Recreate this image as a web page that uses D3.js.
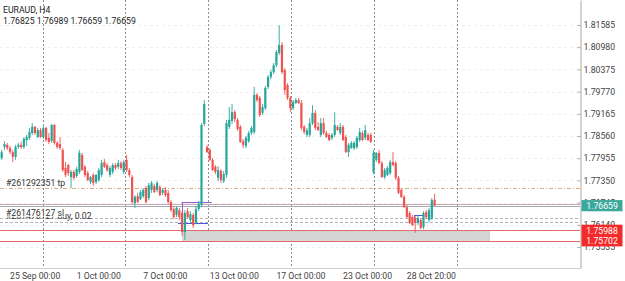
<!DOCTYPE html>
<html><head><meta charset="utf-8">
<script src="https://cdn.jsdelivr.net/npm/d3@7"></script>
<style>body{margin:0;background:#fff;} svg{display:block;font-family:Roboto, "Noto Sans", sans-serif;}</style>
</head><body><svg id="c" width="625" height="281"></svg>
<script>
const symbol = "EURAUD, H4";
const headerValues = [1.76825, 1.76989, 1.76659, 1.76659];
const opens = [1.7796,1.7826,1.7832,1.7823,1.7812,1.7799,1.7826,1.7832,1.7826,1.7845,
1.7851,1.7864,1.7881,1.7853,1.7872,1.7853,1.7878,1.7851,1.7842,1.7886,
1.7837,1.7834,1.7818,1.7769,1.7777,1.7744,1.7758,1.7747,1.7758,1.7804,
1.7772,1.7755,1.7731,1.7750,1.7731,1.7736,1.7750,1.7785,1.7777,1.7750,
1.7758,1.7777,1.7772,1.7782,1.7758,1.7791,1.7763,1.7744,1.7673,1.7692,
1.7684,1.7692,1.7714,1.7687,1.7709,1.7720,1.7709,1.7717,1.7701,1.7709,
1.7701,1.7676,1.7657,1.7641,1.7654,1.7646,1.7594,1.7651,1.7627,1.7641,
1.7621,1.7657,1.7668,1.7889,1.7826,1.7818,1.7791,1.7772,1.7742,1.7761,
1.7733,1.7750,1.7881,1.7897,1.7921,1.7900,1.7881,1.7842,1.7829,1.7842,
1.7864,1.7867,1.7968,1.7960,1.7919,1.7932,1.7990,1.8017,1.8030,1.8049,
1.8082,1.8104,1.8036,1.7995,1.7960,1.7932,1.7946,1.7954,1.7946,1.7881,
1.7859,1.7859,1.7891,1.7919,1.7881,1.7859,1.7891,1.7864,1.7859,1.7851,
1.7859,1.7881,1.7864,1.7881,1.7853,1.7812,1.7823,1.7823,1.7826,1.7845,
1.7864,1.7851,1.7859,1.7859,1.7758,1.7791,1.7810,1.7782,1.7744,1.7750,
1.7755,1.7785,1.7782,1.7742,1.7709,1.7690,1.7662,1.7646,1.7635,1.7632,
1.7619,1.7627,1.7608,1.7649,1.7627,1.7632,1.76825];
const highs = [1.7818,1.7842,1.7837,1.7829,1.7818,1.7832,1.7837,1.7840,1.7853,1.7859,
1.7878,1.7891,1.7883,1.7878,1.7878,1.7883,1.7881,1.7864,1.7889,1.7889,
1.7842,1.7853,1.7823,1.7785,1.7780,1.7763,1.7763,1.7772,1.7818,1.7810,
1.7777,1.7761,1.7747,1.7755,1.7752,1.7769,1.7791,1.7793,1.7782,1.7774,
1.7782,1.7782,1.7791,1.7788,1.7791,1.7804,1.7769,1.7750,1.7695,1.7701,
1.7709,1.7714,1.7720,1.7728,1.7733,1.7725,1.7733,1.7722,1.7714,1.7717,
1.7709,1.7681,1.7662,1.7665,1.7660,1.7651,1.7654,1.7660,1.7651,1.7646,
1.7665,1.7679,1.7891,1.7954,1.7832,1.7823,1.7796,1.7777,1.7774,1.7766,
1.7761,1.7900,1.7935,1.7943,1.7927,1.7905,1.7886,1.7848,1.7856,1.7870,
1.7883,1.7990,1.7973,1.7965,1.7943,1.7992,1.8022,1.8036,1.8055,1.8090,
1.8158,1.8112,1.8041,1.8000,1.7965,1.7954,1.7960,1.7960,1.7954,1.7886,
1.7878,1.7905,1.7940,1.7927,1.7894,1.7905,1.7905,1.7870,1.7864,1.7864,
1.7921,1.7886,1.7891,1.7886,1.7859,1.7837,1.7842,1.7842,1.7856,1.7878,
1.7870,1.7886,1.7864,1.7864,1.7818,1.7812,1.7818,1.7788,1.7769,1.7774,
1.7791,1.7812,1.7788,1.7747,1.7714,1.7695,1.7668,1.7651,1.7641,1.7638,
1.7641,1.7632,1.7651,1.7654,1.7660,1.7687,1.76989];
const lows = [1.7791,1.7818,1.7818,1.7807,1.7785,1.7791,1.7821,1.7821,1.7821,1.7829,
1.7845,1.7859,1.7859,1.7851,1.7851,1.7848,1.7840,1.7834,1.7837,1.7832,
1.7821,1.7818,1.7758,1.7744,1.7747,1.7714,1.7736,1.7742,1.7752,1.7761,
1.7744,1.7733,1.7725,1.7720,1.7725,1.7731,1.7744,1.7769,1.7758,1.7744,
1.7752,1.7763,1.7766,1.7763,1.7752,1.7758,1.7744,1.7671,1.7660,1.7673,
1.7681,1.7687,1.7673,1.7681,1.7701,1.7701,1.7703,1.7692,1.7695,1.7690,
1.7671,1.7649,1.7630,1.7635,1.7627,1.7583,1.7573,1.7630,1.7621,1.7605,
1.7616,1.7651,1.7662,1.7883,1.7810,1.7788,1.7761,1.7752,1.7733,1.7728,
1.7728,1.7742,1.7875,1.7889,1.7894,1.7870,1.7837,1.7823,1.7823,1.7837,
1.7859,1.7861,1.7949,1.7908,1.7913,1.7927,1.7984,1.8011,1.8025,1.8044,
1.8077,1.8025,1.7968,1.7954,1.7921,1.7927,1.7943,1.7943,1.7872,1.7861,
1.7853,1.7853,1.7886,1.7872,1.7870,1.7853,1.7859,1.7851,1.7842,1.7845,
1.7853,1.7870,1.7859,1.7842,1.7810,1.7799,1.7821,1.7818,1.7821,1.7840,
1.7842,1.7845,1.7842,1.7837,1.7752,1.7785,1.7780,1.7742,1.7739,1.7747,
1.7750,1.7774,1.7736,1.7698,1.7687,1.7660,1.7632,1.7616,1.7611,1.7592,
1.7613,1.7602,1.7602,1.7630,1.7621,1.7627,1.76659];
const closes = [1.7812,1.7834,1.7823,1.7812,1.7799,1.7826,1.7832,1.7826,1.7848,1.7853,
1.7867,1.7881,1.7864,1.7872,1.7853,1.7878,1.7845,1.7840,1.7886,1.7837,
1.7826,1.7823,1.7763,1.7750,1.7755,1.7758,1.7742,1.7766,1.7810,1.7763,
1.7750,1.7736,1.7744,1.7728,1.7750,1.7763,1.7782,1.7772,1.7763,1.7769,
1.7777,1.7769,1.7782,1.7769,1.7785,1.7763,1.7750,1.7676,1.7690,1.7676,
1.7703,1.7709,1.7676,1.7722,1.7728,1.7703,1.7728,1.7695,1.7709,1.7695,
1.7676,1.7654,1.7635,1.7660,1.7635,1.7594,1.7646,1.7635,1.7643,1.7613,
1.7657,1.7671,1.7886,1.7943,1.7812,1.7791,1.7763,1.7758,1.7763,1.7736,
1.7752,1.7891,1.7900,1.7921,1.7902,1.7875,1.7840,1.7832,1.7851,1.7864,
1.7878,1.7968,1.7954,1.7913,1.7935,1.7987,1.8017,1.8030,1.8049,1.8085,
1.8104,1.8030,1.7981,1.7960,1.7932,1.7949,1.7954,1.7946,1.7878,1.7867,
1.7872,1.7891,1.7919,1.7878,1.7872,1.7891,1.7864,1.7853,1.7845,1.7859,
1.7886,1.7872,1.7881,1.7845,1.7812,1.7832,1.7837,1.7837,1.7851,1.7867,
1.7845,1.7872,1.7845,1.7840,1.7810,1.7810,1.7782,1.7744,1.7763,1.7769,
1.7785,1.7777,1.7742,1.7701,1.7690,1.7662,1.7635,1.7619,1.7613,1.7619,
1.7632,1.7605,1.7646,1.7635,1.7654,1.7681,1.76659];

const priceTicks = [1.81585,1.80980,1.80375,1.79770,1.79165,1.78560,1.77955,1.77350,1.76745,1.76140,1.75535];
const timeLabels = ["25 Sep 00:00","1 Oct 00:00","7 Oct 00:00","13 Oct 00:00","17 Oct 00:00","23 Oct 00:00","28 Oct 20:00"];
const timeLabelBars = [3, 27, 51, 75, 99, 123, 146];
const gridBars = [14.9, 44.4, 74.3, 104.2, 134.2, 164.1];

const bidPrice = 1.76659, askPrice = 1.7671;
const orderLines = [
  {price: 1.7714, label: "#261292351 tp", color: "#e3aa80", dash: "4,2,1,2"},
  {price: 1.7623, label: "#261476127 buy, 0.02", color: "#aab3c4", dash: "3,2"},
  {price: 1.7632, label: "#261476127 sl", color: "#b8b8b8", dash: "3,2", mask: true}
];
const zoneTop = 1.75988, zoneBottom = 1.75702, zoneBars = [65, 176];
const markerA = {top: 1.7675, bottom: 1.7620, barsTop: [64.8, 75.7], barsBottom: [63.5, 74.3]};
const markerB = {top: 1.7640, bottom: 1.7621, bars: [148.6, 151.8]};

const W = 625, H = 281, plotRight = 580, plotBottom = 268;
const svg = d3.select("#c");
const x = d3.scaleLinear().domain([0, 156]).range([1.7, 434.6]);
const y = d3.scaleLinear().domain([1.74963, 1.82266]).range([plotBottom, 0]);
const FS = "8.7px";
const crisp = v => Math.round(v) + 0.5;

// horizontal faint grid
svg.append("g").selectAll("line").data(priceTicks).join("line")
  .attr("x1", 0).attr("x2", plotRight)
  .attr("y1", d => crisp(y(d))).attr("y2", d => crisp(y(d)))
  .attr("stroke", "#f0f0f0").attr("stroke-dasharray", "3,3");

// vertical grid
svg.append("g").selectAll("line").data(gridBars).join("line")
  .attr("x1", d => crisp(x(d))).attr("x2", d => crisp(x(d)))
  .attr("y1", 0).attr("y2", plotBottom)
  .attr("stroke", "#8c8c8c").attr("stroke-dasharray", "2,2");

// zone
svg.append("rect")
  .attr("x", x(zoneBars[0])).attr("width", x(zoneBars[1]) - x(zoneBars[0]))
  .attr("y", y(zoneTop)).attr("height", y(zoneBottom) - y(zoneTop))
  .attr("fill", "#d4d4d4");
[zoneTop, zoneBottom].forEach(p => svg.append("line")
  .attr("x1", 0).attr("x2", plotRight).attr("y1", crisp(y(p))).attr("y2", crisp(y(p)))
  .attr("stroke", "#e06a6a"));

// bid / ask lines
svg.append("line").attr("x1", 0).attr("x2", plotRight)
  .attr("y1", crisp(y(askPrice))).attr("y2", crisp(y(askPrice))).attr("stroke", "#c9aab0");
svg.append("line").attr("x1", 0).attr("x2", plotRight)
  .attr("y1", crisp(y(bidPrice))).attr("y2", crisp(y(bidPrice))).attr("stroke", "#a2aab3");

// order lines
orderLines.forEach(o => {
  svg.append("line").attr("x1", 0).attr("x2", plotRight)
    .attr("y1", crisp(y(o.price))).attr("y2", crisp(y(o.price)))
    .attr("stroke", o.color).attr("stroke-dasharray", o.dash);
});
orderLines.forEach(o => {
  const by = y(o.price) - 2.5;
  if (o.mask) svg.append("rect").attr("x", 5).attr("y", by - 7.5).attr("width", 59).attr("height", 8.5).attr("fill", "#fff");
  svg.append("text").attr("x", 6).attr("y", by).attr("font-size", FS).attr("fill", "#333").text(o.label);
});

// markers
svg.append("line").attr("x1", x(markerA.barsTop[0])).attr("x2", x(markerA.barsTop[1]))
  .attr("y1", crisp(y(markerA.top))).attr("y2", crisp(y(markerA.top))).attr("stroke", "#9b59d0");
svg.append("line").attr("x1", crisp(x(markerA.barsTop[0]))).attr("x2", crisp(x(markerA.barsTop[0])))
  .attr("y1", y(markerA.top)).attr("y2", y(markerA.bottom)).attr("stroke", "#9b59d0");
svg.append("line").attr("x1", x(markerA.barsBottom[0])).attr("x2", x(markerA.barsBottom[1]))
  .attr("y1", crisp(y(markerA.bottom))).attr("y2", crisp(y(markerA.bottom))).attr("stroke", "#4a55d8");
svg.append("line").attr("x1", x(markerB.bars[0])).attr("x2", x(markerB.bars[1]))
  .attr("y1", crisp(y(markerB.top))).attr("y2", crisp(y(markerB.top))).attr("stroke", "#4a55d8");
svg.append("line").attr("x1", crisp(x(markerB.bars[0]))).attr("x2", crisp(x(markerB.bars[0])))
  .attr("y1", y(markerB.top)).attr("y2", y(markerB.bottom)).attr("stroke", "#9b59d0");

// candles
const bars = opens.map((o, i) => ({i, o, h: highs[i], l: lows[i], c: closes[i]}));
const up = "#26a69a", down = "#ef5350";
const cg = svg.append("g");
cg.selectAll("line").data(bars).join("line")
  .attr("x1", d => x(d.i)).attr("x2", d => x(d.i))
  .attr("y1", d => y(d.h)).attr("y2", d => y(d.l))
  .attr("stroke", d => d.c >= d.o ? up : down).attr("stroke-width", 0.9);
cg.selectAll("rect").data(bars).join("rect")
  .attr("x", d => x(d.i) - 1.1).attr("width", 2.2)
  .attr("y", d => y(Math.max(d.o, d.c)))
  .attr("height", d => Math.max(0.8, Math.abs(y(d.o) - y(d.c))))
  .attr("fill", d => d.c >= d.o ? up : down);

// price axis
const ax = svg.append("g").attr("transform", `translate(${plotRight + 0.5},0)`)
  .call(d3.axisRight(y).tickValues(priceTicks).tickFormat(d3.format(".5f")).tickSize(-3).tickSizeOuter(0).tickPadding(3));
ax.select(".domain").attr("stroke", "#a8a8a8");
ax.selectAll(".tick line").attr("stroke", "#a8a8a8");
ax.selectAll(".tick text").attr("font-size", FS).attr("fill", "#444").attr("font-family", "Roboto");

// bottom line
svg.append("line").attr("x1", 0).attr("x2", plotRight + 0.5).attr("y1", plotBottom + 0.5).attr("y2", plotBottom + 0.5).attr("stroke", "#cfcfcf");

// time labels
svg.append("g").selectAll("text").data(timeLabels).join("text")
  .attr("x", (d, i) => x(timeLabelBars[i])).attr("y", 279)
  .attr("font-size", FS).attr("fill", "#444").text(d => d);

// price boxes
const boxes = [
  {price: bidPrice, fill: "#3aa89c"},
  {price: zoneTop, fill: "#f42a2a"},
  {price: zoneBottom, fill: "#f42a2a"}
];
boxes.forEach(b => {
  const yy = y(b.price);
  svg.append("rect").attr("x", 581.5).attr("y", yy - 5.7).attr("width", 41).attr("height", 11.2).attr("fill", b.fill);
  svg.append("text").attr("x", 602).attr("y", yy + 3.2).attr("text-anchor", "middle")
    .attr("font-size", FS).attr("fill", "#fff").text(d3.format(".5f")(b.price));
});

// header
svg.append("text").attr("x", 3).attr("y", 13).attr("font-size", FS).attr("fill", "#222").text(symbol);
svg.append("text").attr("x", 3).attr("y", 24).attr("font-size", FS).attr("fill", "#222")
  .text(headerValues.map(d3.format(".5f")).join(" "));
</script></body></html>
